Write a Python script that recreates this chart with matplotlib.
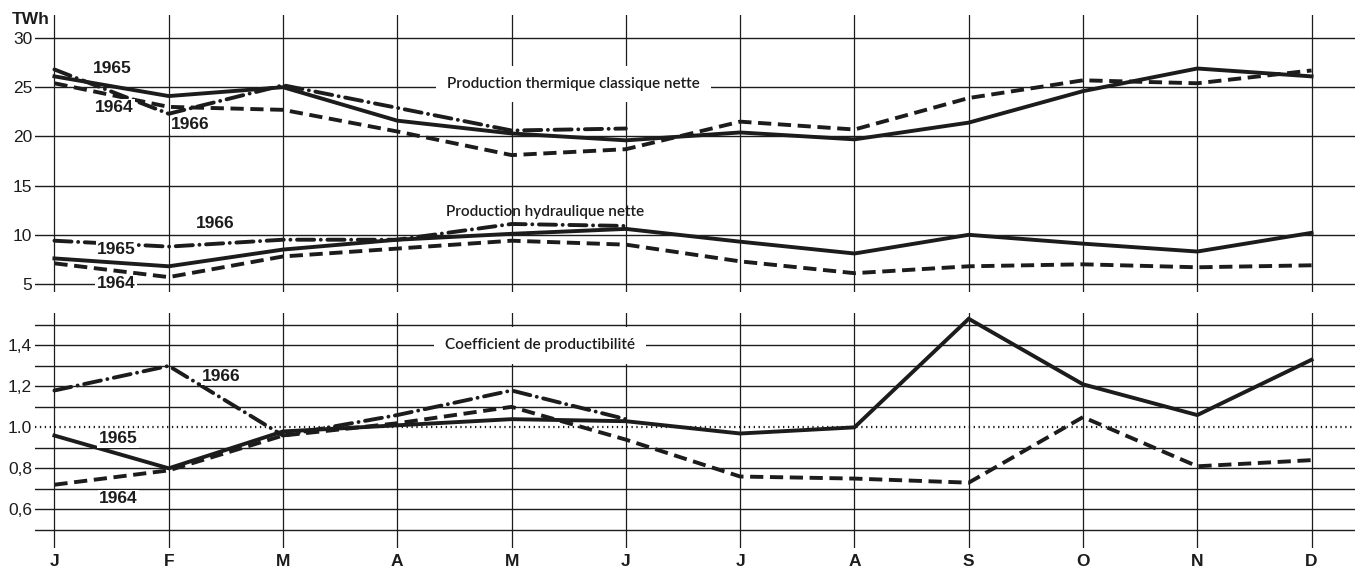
# Production thermique / hydraulique et coefficient de productibilité, 1964-1966

import matplotlib.pyplot as plt
import numpy as np

months = ["J", "F", "M", "A", "M", "J", "J", "A", "S", "O", "N", "D"]

# production thermique classique nette (TWh)
therm_1964 = [25.4, 23.0, 22.7, 20.5, 18.1, 18.7, 21.5, 20.7, 23.9, 25.7, 25.4, 26.7]
therm_1965 = [26.1, 24.1, 25.0, 21.6, 20.3, 19.6, 20.4, 19.7, 21.4, 24.6, 26.9, 26.1]
therm_1966 = [26.8, 22.3, 25.2, 22.9, 20.6, 20.8]

# production hydraulique nette (TWh)
hydro_1964 = [7.1, 5.7, 7.8, 8.6, 9.4, 9.0, 7.3, 6.1, 6.8, 7.0, 6.7, 6.9]
hydro_1965 = [7.6, 6.8, 8.5, 9.5, 10.1, 10.6, 9.3, 8.1, 10.0, 9.1, 8.3, 10.2]
hydro_1966 = [9.4, 8.8, 9.5, 9.5, 11.1, 10.9]

# coefficient de productibilité
coef_1964 = [0.72, 0.79, 0.96, 1.02, 1.10, 0.94, 0.76, 0.75, 0.73, 1.05, 0.81, 0.84]
coef_1965 = [0.96, 0.80, 0.98, 1.01, 1.04, 1.03, 0.97, 1.00, 1.53, 1.21, 1.06, 1.33]
coef_1966 = [1.18, 1.30, 0.96, 1.06, 1.18, 1.04]

twh_ticks = [5, 10, 15, 20, 25, 30]
coef_ticks = [0.6, 0.8, 1.0, 1.2, 1.4]
coef_tick_labels = ["0,6", "0,8", "1.0", "1,2", "1,4"]

ink = "#1c1c1c"
lw = 2.8
styles = {
    "1964": dict(color=ink, lw=lw, linestyle=(0, (3.4, 1.7)), dash_capstyle="butt"),
    "1965": dict(color=ink, lw=lw, linestyle="-", solid_joinstyle="miter"),
    "1966": dict(color=ink, lw=lw, linestyle=(0, (4.4, 1.7, 0.01, 1.7)), dash_capstyle="round"),
}
font = ["Liberation Sans", "DejaVu Sans"]
fs = 12.5

x = np.arange(len(months))

fig = plt.figure(figsize=(13.62, 5.85), dpi=100)
fig.patch.set_facecolor("white")

ax_top = fig.add_axes([35 / 1362, 0.5009, 1320 / 1362, 0.4735])
ax_bot = fig.add_axes([35 / 1362, 0.0632, 1320 / 1362, 0.4017])

for ax in (ax_top, ax_bot):
    ax.set_xlim(-0.17, 11.38)
    for s in ax.spines.values():
        s.set_visible(False)
    ax.set_facecolor("white")
    for xi in x:
        ax.axvline(xi, color=ink, lw=0.9, zorder=1)
    ax.tick_params(length=0)

# --- panneau du haut : TWh
ax_top.set_ylim(4.19, 32.34)
for v in twh_ticks:
    ax_top.axhline(v, color=ink, lw=1.0, zorder=1)
ax_top.set_yticks(twh_ticks)
ax_top.set_yticklabels([str(v) for v in twh_ticks], family=font, fontsize=fs, color=ink)
ax_top.tick_params(axis="y", pad=2)
ax_top.set_xticks([])

ax_top.plot(x, therm_1964, **styles["1964"], zorder=3)
ax_top.plot(x, therm_1965, **styles["1965"], zorder=3)
ax_top.plot(x[:len(therm_1966)], therm_1966, **styles["1966"], zorder=3)
ax_top.plot(x, hydro_1964, **styles["1964"], zorder=3)
ax_top.plot(x, hydro_1965, **styles["1965"], zorder=3)
ax_top.plot(x[:len(hydro_1966)], hydro_1966, **styles["1966"], zorder=3)

title_kw = dict(ha="center", va="center", fontsize=11, color=ink, family=["Lato", "DejaVu Sans"],
                fontweight="semibold", zorder=6)
ax_top.text(4.545, 25.3, "Production thermique classique nette",
            bbox=dict(facecolor="white", edgecolor="none", pad=8), **title_kw)
ax_top.text(4.29, 12.35, "Production hydraulique nette", **title_kw)

year_kw = dict(ha="center", va="center", fontsize=fs, fontweight="bold", color=ink,
               family=font, zorder=6,
               bbox=dict(facecolor="white", edgecolor="none", pad=1.0))
ax_top.text(0.507, 26.85, "1965", **year_kw)
ax_top.text(0.525, 22.94, "1964", **year_kw)
ax_top.text(1.19, 21.16, "1966", **year_kw)
ax_top.text(1.404, 11.15, "1966", **year_kw)
ax_top.text(0.542, 8.46, "1965", **year_kw)
ax_top.text(0.538, 5.05, "1964", **year_kw)

fig.text(12 / 1362, 1 - 20 / 585, "TWh", ha="left", va="center", fontsize=fs,
         fontweight="bold", color=ink, family=font)

# --- panneau du bas : coefficient de productibilité
ax_bot.set_ylim(0.411, 1.558)
for v in np.arange(5, 16) / 10:
    if abs(v - 1.0) < 1e-9:
        ax_bot.axhline(v, color=ink, lw=1.6, linestyle=(0, (0.6, 1.6)), zorder=2)
    else:
        ax_bot.axhline(v, color=ink, lw=1.0, zorder=1)
ax_bot.set_yticks(coef_ticks)
ax_bot.set_yticklabels(coef_tick_labels, family=font, fontsize=fs, color=ink)
ax_bot.tick_params(axis="y", pad=2)
ax_bot.set_xticks(x)
ax_bot.set_xticklabels(months, family=font, fontsize=fs, fontweight="bold", color=ink)
ax_bot.tick_params(axis="x", pad=4)

ax_bot.plot(x, coef_1964, **styles["1964"], zorder=3)
ax_bot.plot(x, coef_1965, **styles["1965"], zorder=3)
ax_bot.plot(x[:len(coef_1966)], coef_1966, **styles["1966"], zorder=3)

ax_bot.text(4.25, 1.40, "Coefficient de productibilité",
            bbox=dict(facecolor="white", edgecolor="none", pad=8), **title_kw)
ax_bot.text(1.46, 1.248, "1966", **year_kw)
ax_bot.text(0.556, 0.945, "1965", **year_kw)
ax_bot.text(0.56, 0.653, "1964", **year_kw)

plt.savefig("out.png", dpi=100)
plt.close()
